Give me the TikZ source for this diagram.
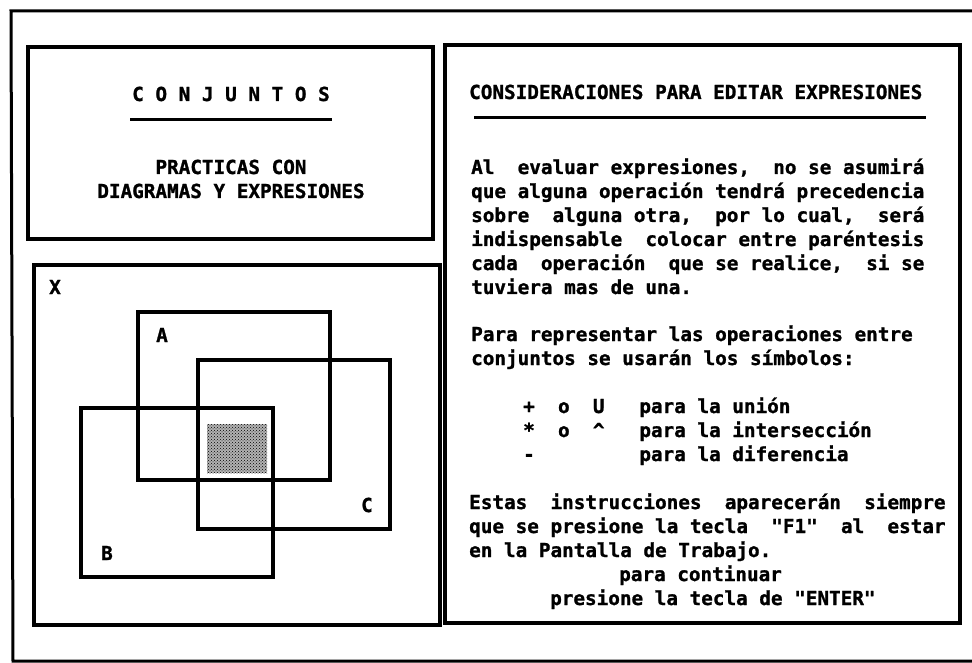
\documentclass[tikz,border=0pt]{standalone}
\usepackage{fontspec}
\setmonofont{DejaVu Sans Mono}[BoldFeatures={FakeBold=1.2}]
\usetikzlibrary{patterns}

\newcommand{\pantalla}{\ttfamily\bfseries\fontsize{19.3}{24}\selectfont}

\begin{document}
\begin{tikzpicture}[x=1pt, y=-1pt]
\tikzset{
  marco/.style={line width=3.5pt},
  raya/.style={line width=3pt},
  texto/.style={font=\pantalla, inner sep=0pt, anchor=base west},
  letra/.style={font=\pantalla, inner sep=0pt}
}
\useasboundingbox (0, 0) rectangle (972, 663);
\draw [raya] (972, 11) -- (11, 11) -- (13, 661) -- (972, 661); % pantalla
% titulo
\draw [marco] (28, 47) rectangle (433, 239);
\node [letra, anchor=base] (titulo) at (231, 101) {C O N J U N T O S};
\coordinate (t1) at (130, 120);
\coordinate (t2) at (332, 120);
\draw [raya] (t1) -- (t2);
\node [letra, anchor=base] (sub1) at (231, 174) {PRACTICAS CON};
\node [letra, anchor=base] (sub2) at (231, 198) {DIAGRAMAS Y EXPRESIONES};
% diagrama
\draw [marco] (34, 265) rectangle (440, 625);
\fill [black!30] (207, 424) rectangle (267, 473);
\fill [pattern=crosshatch dots] (207, 424) rectangle (267, 473);
\draw [marco] (138, 312) rectangle (330, 480); % A
\draw [marco] (198, 360) rectangle (390, 529); % C
\draw [marco] (81, 408) rectangle (273, 577);  % B
\node [letra] (X) at (55, 287) {X};
\node [letra] (A) at (162, 335) {A};
\node [letra] (C) at (367, 505) {C};
\node [letra] (B) at (107, 553) {B};
% consideraciones
\draw [marco] (445, 45) rectangle (960, 623);
\node [texto] (encabezado) at (469, 99) {CONSIDERACIONES PARA EDITAR EXPRESIONES};
\coordinate (e1) at (474, 118);
\coordinate (e2) at (926, 118);
\draw [raya] (e1) -- (e2);
\foreach \linea [count=\i from 0] in {%
  {Al~ evaluar expresiones,~ no se asumirá},
  {que alguna operación tendrá precedencia},
  {sobre~ alguna otra,~ por lo cual,~ será},
  {indispensable~ colocar entre paréntesis},
  {cada~ operación~ que se realice,~ si se},
  {tuviera mas de una.}}
  \node [texto] (p1-\i) at (471, 174+24*\i) {\linea};
\node [texto] (p2-0) at (471, 341) {Para representar las operaciones entre};
\node [texto] (p2-1) at (471, 365) {conjuntos se usarán los símbolos:};
\node [texto] (s1) at (523, 413) {+~ o~ U~~ para la unión};
\node [texto] (s2) at (523, 437) {*~ o~ \textasciicircum~~ para la intersección};
\node [texto] (s3) at (523, 461) {-~~~~~~~~ para la diferencia};
\node [texto] (p3-0) at (469, 509) {Estas~ instrucciones~ aparecerán~ siempre};
\node [texto] (p3-1) at (469, 533) {que se presione la tecla~ "F1"~ al~ estar};
\node [texto] (p3-2) at (469, 557) {en la Pantalla de Trabajo.};
\node [texto] (cont) at (619, 581) {para continuar};
\node [texto] (enter) at (550, 605) {presione la tecla de "ENTER"};
\end{tikzpicture}
\end{document}
